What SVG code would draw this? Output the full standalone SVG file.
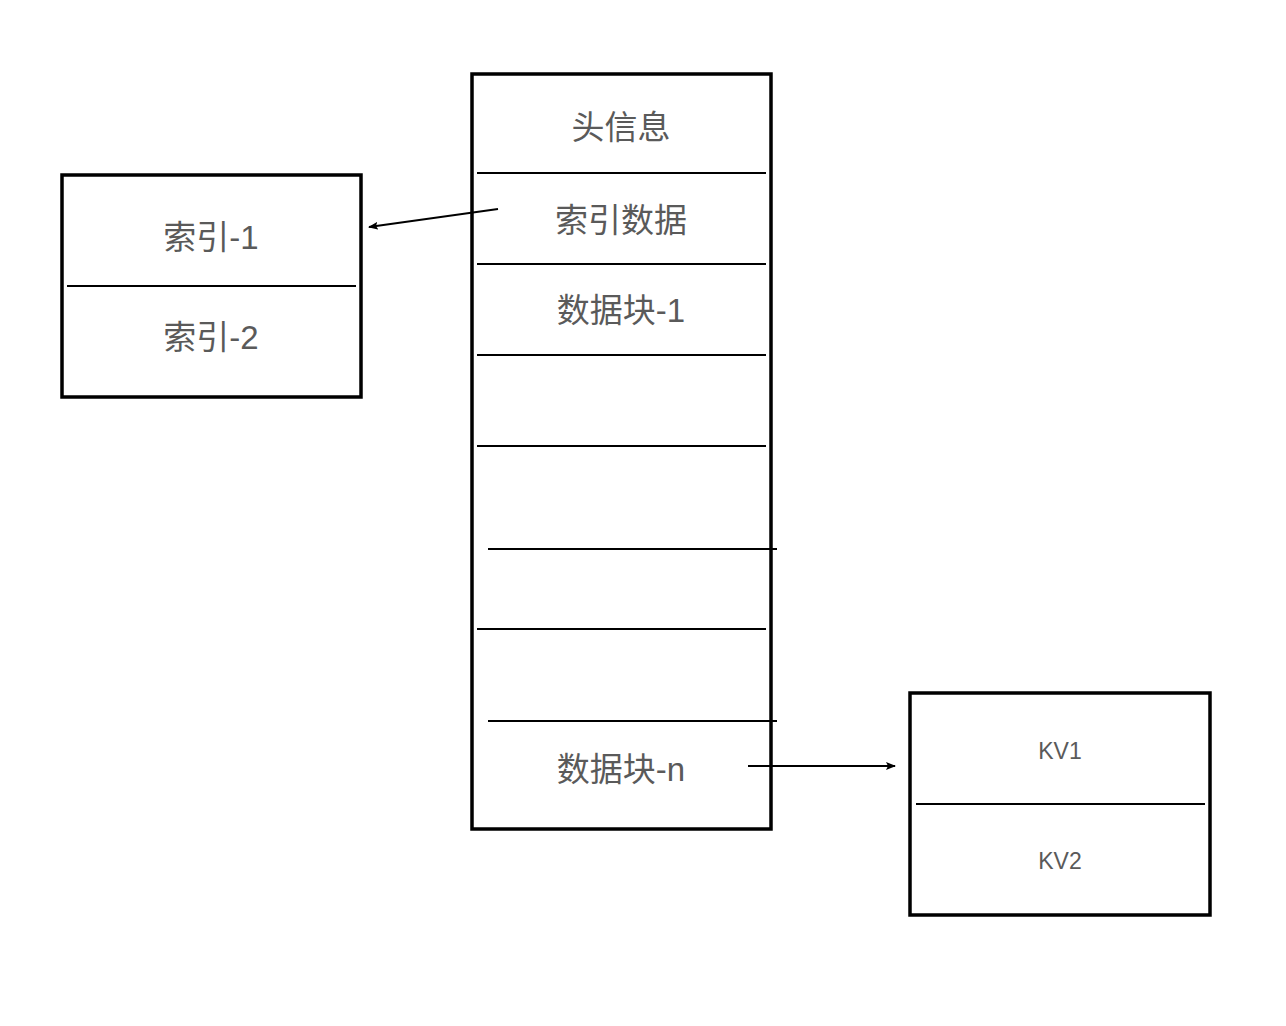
<svg xmlns="http://www.w3.org/2000/svg" width="1286" height="1026" viewBox="0 0 1286 1026">
<style>
.box{fill:#fff;stroke:#000;stroke-width:3.5}
.div{stroke:#000;stroke-width:2}
.t{font-family:"Liberation Sans","Noto Sans CJK SC",sans-serif;fill:#5a5a5a;text-anchor:middle;dominant-baseline:central}
.big{font-size:33px}
.small{font-size:23px}
.conn{stroke:#000;stroke-width:1.8;fill:none}
</style>
<defs>
<marker id="ah" markerWidth="10" markerHeight="8" refX="9" refY="4" orient="auto" markerUnits="userSpaceOnUse">
<path d="M0,0 L10,4 L0,8 L2,4 Z" fill="#000"/>
</marker>
</defs>
<rect width="1286" height="1026" fill="#fff"/>
<g id="main">
<rect class="box" x="472" y="74" width="299" height="755"/>
<line class="div" x1="477" y1="173" x2="766" y2="173"/>
<line class="div" x1="477" y1="264" x2="766" y2="264"/>
<line class="div" x1="477" y1="355" x2="766" y2="355"/>
<line class="div" x1="477" y1="446" x2="766" y2="446"/>
<line class="div" x1="488" y1="549" x2="777" y2="549"/>
<line class="div" x1="477" y1="629" x2="766" y2="629"/>
<line class="div" x1="488" y1="721" x2="777" y2="721"/>
<text class="t big" x="621" y="127">头信息</text>
<text class="t big" x="621" y="220">索引数据</text>
<text class="t big" x="621" y="310">数据块-1</text>
<text class="t big" x="621" y="769">数据块-n</text>
</g>
<g id="index">
<rect class="box" x="62" y="175" width="299" height="222"/>
<line class="div" x1="67" y1="286" x2="356" y2="286"/>
<text class="t big" x="211" y="237">索引-1</text>
<text class="t big" x="211" y="337">索引-2</text>
</g>
<g id="kv">
<rect class="box" x="910" y="693" width="300" height="222"/>
<line class="div" x1="916" y1="804" x2="1205" y2="804"/>
<text class="t small" x="1060" y="751">KV1</text>
<text class="t small" x="1060" y="861">KV2</text>
</g>
<g id="connectors">
<line class="conn" x1="498" y1="209" x2="369" y2="227" marker-end="url(#ah)"/>
<line class="conn" x1="748" y1="766" x2="895" y2="766" marker-end="url(#ah)"/>
</g>
</svg>
